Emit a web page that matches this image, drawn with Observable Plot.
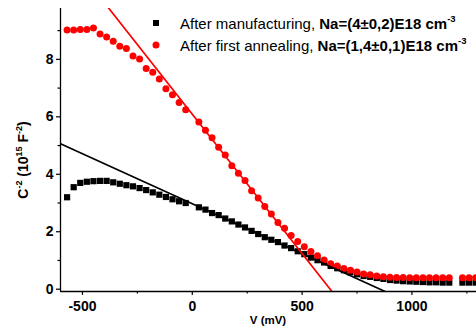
<!DOCTYPE html>
<html>
<head>
<meta charset="utf-8">
<script src="https://cdn.jsdelivr.net/npm/d3@7"></script>
<script src="https://cdn.jsdelivr.net/npm/@observablehq/plot@0.6"></script>
<style>
  html, body { margin: 0; padding: 0; background: #fff; }
  #chart svg { display: block; }
</style>
</head>
<body>
<div id="chart"></div>
<script>
// ---- Data ----
const voltsManufacturing = [-570,-540,-510,-480,-450,-420,-390,-360,-330,-300,-270,-240,-210,-180,-150,-120,-90,-60,-30,
  30,60,90,120,150,180,210,240,270,300,330,360,390,420,450,480,510,540,570,600,630,660,690,720,750,780,810,840,870,900,
  930,960,990,1020,1050,1080,1110,1140,1170,1230,1260,1290];
const c2Manufacturing = [3.20,3.55,3.70,3.74,3.76,3.77,3.77,3.72,3.67,3.62,3.58,3.52,3.45,3.37,3.29,3.21,3.13,3.06,3.00,
  2.85,2.77,2.65,2.58,2.46,2.36,2.25,2.15,2.03,1.92,1.81,1.72,1.64,1.52,1.43,1.32,1.22,1.10,1.01,0.93,0.81,0.73,0.66,0.59,0.52,0.46,0.43,0.39,0.36,0.32,
  0.30,0.28,0.27,0.26,0.25,0.24,0.24,0.23,0.23,0.23,0.23,0.23];

const voltsAnnealing = voltsManufacturing;
const c2Annealing = [9.02,9.02,9.04,9.04,9.09,8.88,8.78,8.63,8.46,8.38,8.12,8.01,7.68,7.55,7.32,6.98,6.77,6.50,6.25,
  5.82,5.53,5.27,4.94,4.67,4.30,4.04,3.78,3.43,3.17,2.88,2.62,2.32,2.12,1.87,1.66,1.48,1.31,1.16,1.02,0.89,0.81,0.72,0.66,0.60,0.53,0.50,0.46,0.43,0.42,
  0.41,0.41,0.40,0.40,0.40,0.40,0.40,0.40,0.40,0.40,0.40,0.40];

// Linear fit lines (end points V, C^-2)
const fitManufacturingV = [-600, 878];
const fitManufacturingC = [5.06, -0.08];
const fitAnnealingV = [-400, 636];
const fitAnnealingC = [9.97, -0.08];

// Axes
const xDomain = [-600, 1294];
const yDomain = [-0.08, 9.77];
const xMajorTicks = [-500, 0, 500, 1000];
const xMinorTicks = [-250, 250, 750, 1250];
const yMajorTicks = [0, 2, 4, 6, 8];
const yMinorTicks = [1, 3, 5, 7, 9];

const seriesLabels = ["After manufacturing, ", "After first annealing, "];
const seriesBold = ["Na=(4\u00B10,2)E18 cm", "Na=(1,4\u00B10,1)E18 cm"];
const seriesColors = ["#000000", "#ff0000"];

// ---- Build ----
const manu = voltsManufacturing.map((v, i) => ({v, c: c2Manufacturing[i]}));
const anneal = voltsAnnealing.map((v, i) => ({v, c: c2Annealing[i]}));
const fitM = fitManufacturingV.map((v, i) => ({v, c: fitManufacturingC[i]}));
const fitA = fitAnnealingV.map((v, i) => ({v, c: fitAnnealingC[i]}));

const FONT = "Arial, 'Liberation Sans', sans-serif";

const chart = Plot.plot({
  width: 476,
  height: 327,
  marginLeft: 60,
  marginRight: 0,
  marginTop: 8,
  marginBottom: 36,
  style: {fontFamily: FONT, background: "#fff", overflow: "visible"},
  x: {domain: xDomain},
  y: {domain: yDomain},
  marks: [
    Plot.axisX({ticks: xMajorTicks, tickSize: 4, tickPadding: 6, fontSize: 14, fontWeight: "bold", label: null, strokeWidth: 1.2, tickFormat: d => String(d)}),
    Plot.axisX({ticks: xMinorTicks, tickSize: 2.5, tickFormat: () => "", label: null, strokeWidth: 1.2}),
    Plot.axisY({ticks: yMajorTicks, tickSize: 4, tickPadding: 3, fontSize: 14, fontWeight: "bold", label: null, strokeWidth: 1.2}),
    Plot.axisY({ticks: yMinorTicks, tickSize: 2.5, tickFormat: () => "", label: null, strokeWidth: 1.2}),
    Plot.dot(manu, {x: "v", y: "c", symbol: "square", r: 3.5, fill: seriesColors[0], stroke: "none"}),
    Plot.dot(anneal, {x: "v", y: "c", symbol: "circle", r: 3.5, fill: seriesColors[1], stroke: "none"}),
    Plot.line(fitM, {x: "v", y: "c", stroke: seriesColors[0], strokeWidth: 1.7, clip: true}),
    Plot.line(fitA, {x: "v", y: "c", stroke: seriesColors[1], strokeWidth: 1.7, clip: true}),
    Plot.ruleX([xDomain[0]], {stroke: "#000", strokeWidth: 1.3}),
    Plot.ruleY([yDomain[0]], {stroke: "#000", strokeWidth: 1.3})
  ]
});

document.getElementById("chart").appendChild(chart);

const svg = d3.select(chart);

// Y axis label
const yl = svg.append("text")
  .attr("transform", "translate(28,160) rotate(-90)")
  .attr("text-anchor", "middle")
  .attr("font-family", FONT)
  .attr("font-size", 14)
  .attr("font-weight", "bold")
  .attr("fill", "#000");
yl.append("tspan").text("C");
yl.append("tspan").attr("font-size", 9).attr("dy", -6).text("-2");
yl.append("tspan").attr("dy", 6).text(" (10");
yl.append("tspan").attr("font-size", 9).attr("dy", -6).text("15");
yl.append("tspan").attr("dy", 6).text(" F");
yl.append("tspan").attr("font-size", 9).attr("dy", -6).text("-2");
yl.append("tspan").attr("dy", 6).text(")");

// X axis label
svg.append("text")
  .attr("x", 268).attr("y", 324)
  .attr("text-anchor", "middle")
  .attr("font-family", FONT)
  .attr("font-size", 11.5)
  .attr("font-weight", "bold")
  .attr("fill", "#000")
  .text("V (mV)");

// Legend
const legY = [23, 45];
seriesLabels.forEach((lab, i) => {
  if (i === 0) {
    svg.append("rect").attr("x", 153).attr("y", legY[i] - 3).attr("width", 6).attr("height", 6).attr("fill", seriesColors[i]);
  } else {
    svg.append("circle").attr("cx", 156).attr("cy", legY[i]).attr("r", 3.5).attr("fill", seriesColors[i]);
  }
  const t = svg.append("text")
    .attr("x", 180).attr("y", legY[i] + 6)
    .attr("text-anchor", "start")
    .attr("font-family", FONT)
    .attr("font-size", 15)
    .attr("fill", "#000");
  t.append("tspan").text(lab);
  t.append("tspan").attr("font-weight", "bold").text(seriesBold[i]);
  t.append("tspan").attr("font-weight", "bold").attr("font-size", 9.5).attr("dy", -7).text("-3");
});
</script>
</body>
</html>
